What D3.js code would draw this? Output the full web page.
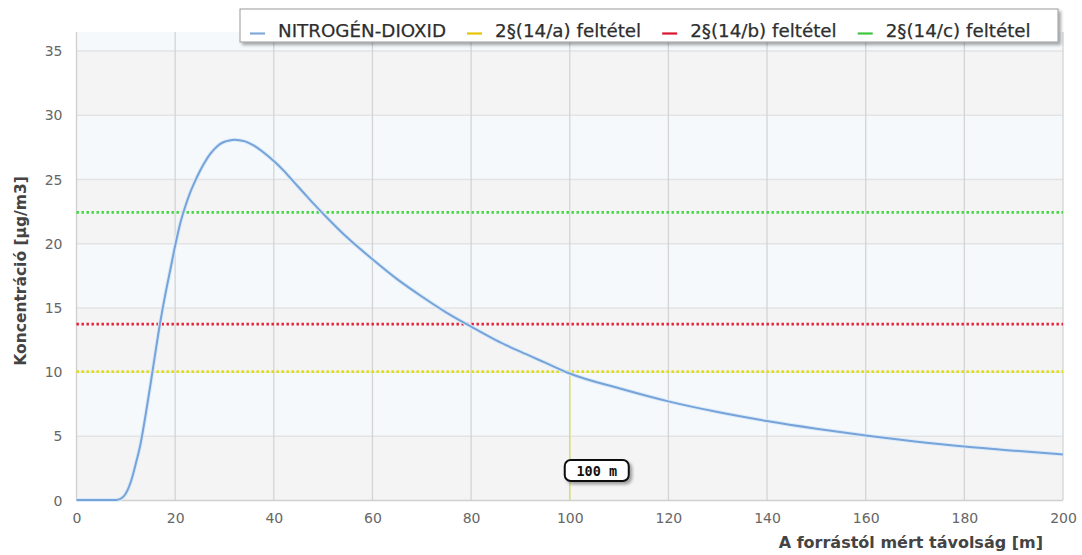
<!DOCTYPE html>
<html>
<head>
<meta charset="utf-8">
<script src="https://cdn.jsdelivr.net/npm/d3@7"></script>
<style>
  body { margin: 0; background: #fff; }
  svg { display: block; }
</style>
</head>
<body>
<svg id="chart" width="1082" height="555"></svg>
<script>
// Distance from the source [m] and modelled NO2 concentration [µg/m3]
const distance = [0, 2, 4, 6, 8, 9, 10, 11, 12, 13, 14, 15, 16, 17, 18, 19, 20, 21, 22, 23,
  24, 25, 26, 27, 28, 29, 30, 31, 32, 33, 34, 35, 36, 38, 40, 42, 44, 46, 48, 50,
  55, 60, 65, 70, 75, 80, 85, 90, 95, 100, 110, 120, 130, 140, 150, 160, 170, 180, 190, 200];
const no2 = [0, 0, 0, 0, 0, 0.1, 0.5, 1.4, 2.8, 4.4, 6.6, 9.0, 11.5, 13.9, 16.0, 17.9, 19.8, 21.5, 22.8, 23.9,
  24.8, 25.6, 26.3, 26.9, 27.35, 27.7, 27.9, 28.0, 28.05, 28.02, 27.95, 27.8, 27.6, 27.05, 26.4, 25.65, 24.8, 23.95, 23.1, 22.3,
  20.4, 18.75, 17.2, 15.85, 14.6, 13.5, 12.45, 11.55, 10.7, 9.85, 8.7, 7.68, 6.85, 6.15, 5.55, 5.02, 4.56, 4.16, 3.84, 3.55];

const seriesName = "NITROGÉN-DIOXID";
const limitNames = ["2§(14/a) feltétel", "2§(14/b) feltétel", "2§(14/c) feltétel"];
const limitValues = [10, 13.7, 22.4];
const limitColors = ["#dede10", "#ea1c36", "#3fd83f"];
const legendColors = ["#7fa9da", "#e6c400", "#d8142e", "#3ec43e"];

const xTicks = [0, 20, 40, 60, 80, 100, 120, 140, 160, 180, 200];
const yTicks = [0, 5, 10, 15, 20, 25, 30, 35];
const yMax = 36.45;

const markerDistance = 100;
const markerLabel = "100 m";

const xTitle = "A forrástól mért távolság [m]";
const yTitle = "Koncentráció [µg/m3]";

// ---- layout ----
const W = 1082, H = 555;
const margin = { top: 32, right: 19, bottom: 55, left: 76.5 };
const pw = W - margin.left - margin.right;
const ph = H - margin.top - margin.bottom;

const svg = d3.select("#chart");
const defs = svg.append("defs");
const shadow = defs.append("filter").attr("id", "shadow")
  .attr("x", "-10%").attr("y", "-30%").attr("width", "130%").attr("height", "180%");
shadow.append("feDropShadow").attr("dx", 2.5).attr("dy", 2.5).attr("stdDeviation", 1.6)
  .attr("flood-color", "#000").attr("flood-opacity", 0.35);

const x = d3.scaleLinear().domain([0, 200]).range([margin.left, margin.left + pw]);
const y = d3.scaleLinear().domain([0, yMax]).range([margin.top + ph, margin.top]);

// alternating horizontal bands
const bandEdges = d3.range(0, yMax, 5);
svg.append("g").selectAll("rect").data(bandEdges).join("rect")
  .attr("x", x(0)).attr("width", x(200) - x(0))
  .attr("y", d => y(Math.min(d + 5, yMax)))
  .attr("height", d => y(d) - y(Math.min(d + 5, yMax)))
  .attr("fill", (d, i) => i % 2 === 0 ? "#f4f4f4" : "#f5f9fc");

// grid
svg.append("g").selectAll("line").data(yTicks.slice(1)).join("line")
  .attr("x1", x(0)).attr("x2", x(200))
  .attr("y1", d => y(d) + 0.5).attr("y2", d => y(d) + 0.5)
  .attr("stroke", "#e3e3e3").attr("stroke-width", 1.5);
svg.append("g").selectAll("line").data(xTicks.slice(1)).join("line")
  .attr("x1", d => x(d)).attr("x2", d => x(d))
  .attr("y1", y(yMax)).attr("y2", y(0))
  .attr("stroke", "#d4d4d4").attr("stroke-width", 1.3);

// frame
svg.append("line").attr("x1", x(0)).attr("x2", x(0)).attr("y1", y(yMax)).attr("y2", y(0))
  .attr("stroke", "#cfcfcf").attr("stroke-width", 1.3);
svg.append("line").attr("x1", x(0)).attr("x2", x(200)).attr("y1", y(0) + 0.5).attr("y2", y(0) + 0.5)
  .attr("stroke", "#d0d0d0").attr("stroke-width", 1.3);

// axes (labels only)
const axisFont = "'DejaVu Sans', sans-serif";
const yAxis = svg.append("g").attr("transform", `translate(${x(0) - 14},0)`)
  .call(d3.axisLeft(y).tickValues(yTicks).tickSize(0).tickPadding(0));
yAxis.select(".domain").remove();
yAxis.selectAll("text").attr("font-family", axisFont).attr("font-size", 14).attr("fill", "#666")
  .attr("dy", "0.36em");

const xAxis = svg.append("g").attr("transform", `translate(0,${y(0)})`)
  .call(d3.axisBottom(x).tickValues(xTicks).tickSize(0).tickPadding(13));
xAxis.select(".domain").remove();
xAxis.selectAll("text").attr("font-family", axisFont).attr("font-size", 14).attr("fill", "#666");

// limit lines
svg.append("g").selectAll("line").data(limitValues).join("line")
  .attr("x1", x(0)).attr("x2", x(200))
  .attr("y1", d => y(d)).attr("y2", d => y(d))
  .attr("stroke", (d, i) => limitColors[i]).attr("stroke-width", 2.6)
  .attr("stroke-dasharray", "2.4,2.6");

// vertical marker at the distance where the curve meets limit (a)
svg.append("line")
  .attr("x1", x(markerDistance)).attr("x2", x(markerDistance))
  .attr("y1", y(limitValues[0])).attr("y2", y(0))
  .attr("stroke", "#e2e23a").attr("stroke-width", 1.2);

// concentration curve
const pts = distance.map((d, i) => [d, no2[i]]);
const line = d3.line().x(d => x(d[0])).y(d => y(d[1])).curve(d3.curveMonotoneX);
svg.append("path").datum(pts).attr("d", line)
  .attr("fill", "none").attr("stroke", "#dcebf9").attr("stroke-width", 4);
svg.append("path").datum(pts).attr("d", line)
  .attr("fill", "none").attr("stroke", "#76a3d9").attr("stroke-width", 2);

// marker label
const mg = svg.append("g").attr("transform", `translate(${x(markerDistance) - 5},${y(0) - 40})`);
mg.append("rect").attr("width", 64).attr("height", 21).attr("rx", 6)
  .attr("fill", "#fff").attr("stroke", "#111").attr("stroke-width", 2)
  .attr("filter", "url(#shadow)");
mg.append("text").attr("x", 32).attr("y", 15.5).attr("text-anchor", "middle")
  .attr("font-family", "'DejaVu Sans Mono', monospace").attr("font-weight", "bold")
  .attr("font-size", 13.5).attr("fill", "#111").text(markerLabel);

// axis titles
svg.append("text").attr("x", 1043).attr("y", 548).attr("text-anchor", "end")
  .attr("font-family", axisFont).attr("font-weight", "bold").attr("font-size", 16)
  .attr("fill", "#444").text(xTitle);
svg.append("text").attr("transform", "translate(26,271) rotate(-90)").attr("text-anchor", "middle")
  .attr("font-family", axisFont).attr("font-weight", "bold").attr("font-size", 15.5)
  .attr("fill", "#444").text(yTitle);

// legend
const legendItems = [seriesName, ...limitNames];
const lg = svg.append("g").attr("transform", "translate(240,9)");
lg.append("rect").attr("width", 818).attr("height", 33)
  .attr("fill", "#fff").attr("stroke", "#999").attr("stroke-width", 1)
  .attr("filter", "url(#shadow)");
let cursor = 10;
legendItems.forEach((name, i) => {
  lg.append("line").attr("x1", cursor).attr("x2", cursor + 15)
    .attr("y1", 24.5).attr("y2", 24.5)
    .attr("stroke", legendColors[i]).attr("stroke-width", 2.2);
  const t = lg.append("text").attr("x", cursor + 28).attr("y", 27.5)
    .attr("font-family", axisFont).attr("font-size", 18.3).attr("fill", "#2e2e2e")
    .attr("stroke", "#2e2e2e").attr("stroke-width", 0.25).text(name);
  cursor += 28 + t.node().getComputedTextLength() + 21;
});
</script>
</body>
</html>
